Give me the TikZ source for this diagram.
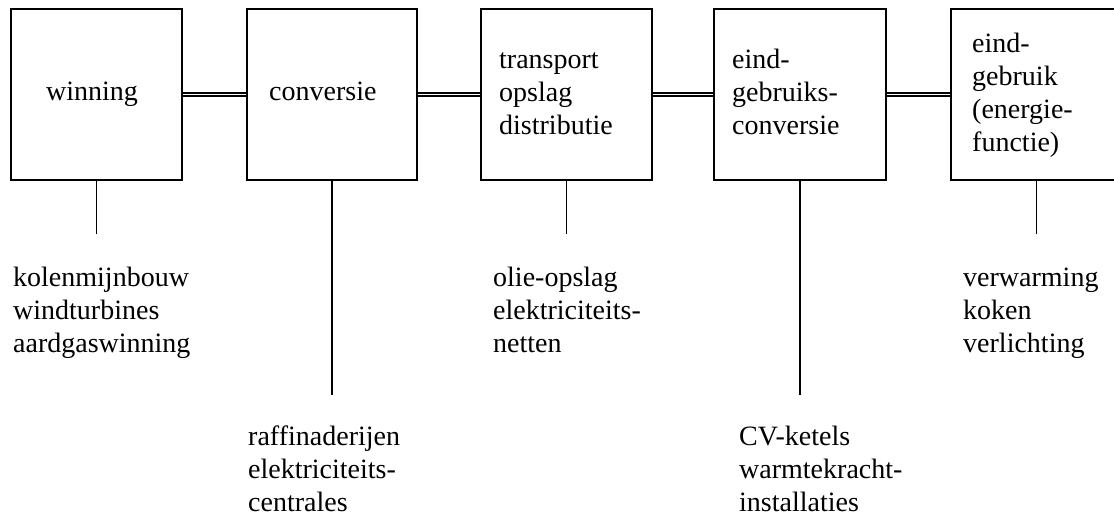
\documentclass[tikz,border=0pt]{standalone}
\usepackage{fontspec}
\setmainfont{Liberation Serif}
\newcommand{\stacklines}[1]{\vtop{\baselineskip=33pt\lineskiplimit=-100pt\halign{##\hfil\cr#1\crcr}}}
\begin{document}
\begin{tikzpicture}[x=1pt,y=-1pt,
  stage/.style={draw, line width=1.7pt, minimum width=171pt, minimum height=171pt, inner sep=0pt},
  dbl/.style={double, double distance=1.8pt, line width=1.3pt},
  stem/.style={line width=1.7pt},
  txt/.style={anchor=base west, inner sep=0pt, font=\fontsize{28}{33}\selectfont}]
\useasboundingbox (0,0) rectangle (1114,520);
\clip (0,0) rectangle (1114,520);
\node[stage] (b1) at (96.5,94.5) {};
\node[stage, minimum width=170pt] (b2) at (332,94.5) {};
\node[stage] (b3) at (566.5,94.5) {};
\node[stage, minimum width=172pt] (b4) at (800,94.5) {};
\node[stage] (b5) at (1036.5,94.5) {};
\node[txt] (t1) at (46,100) {winning};
\node[txt] (t2) at (269,100) {conversie};
\node[txt] (t3) at (499,68) {\stacklines{transport\cr opslag\cr distributie}};
\node[txt] (t4) at (732,68) {\stacklines{eind-\cr gebruiks-\cr conversie}};
\node[txt] (t5) at (972,52) {\stacklines{eind-\cr gebruik\cr (energie-\cr functie)}};
\draw[dbl] (b1.east) -- (b2.west);
\draw[dbl] (b2.east) -- (b3.west);
\draw[dbl] (b3.east) -- (b4.west);
\draw[dbl] (b4.east) -- (b5.west);
\coordinate (e1) at (96.5,234);
\coordinate (e2) at (332,395);
\coordinate (e3) at (566.5,234);
\coordinate (e4) at (800,395);
\coordinate (e5) at (1036.5,234);
\draw[stem] (b1.south) -- (e1);
\draw[stem] (b2.south) -- (e2);
\draw[stem] (b3.south) -- (e3);
\draw[stem] (b4.south) -- (e4);
\draw[stem] (b5.south) -- (e5);
\node[txt] (l1) at (13,286) {\stacklines{kolenmijnbouw\cr windturbines\cr aardgaswinning}};
\node[txt] (l2) at (248,445) {\stacklines{raffinaderijen\cr elektriciteits-\cr centrales}};
\node[txt] (l3) at (493,286) {\stacklines{olie-opslag\cr elektriciteits-\cr netten}};
\node[txt] (l4) at (739,445) {\stacklines{CV-ketels\cr warmtekracht-\cr installaties}};
\node[txt] (l5) at (963,286) {\stacklines{verwarming\cr koken\cr verlichting}};
\end{tikzpicture}
\end{document}
